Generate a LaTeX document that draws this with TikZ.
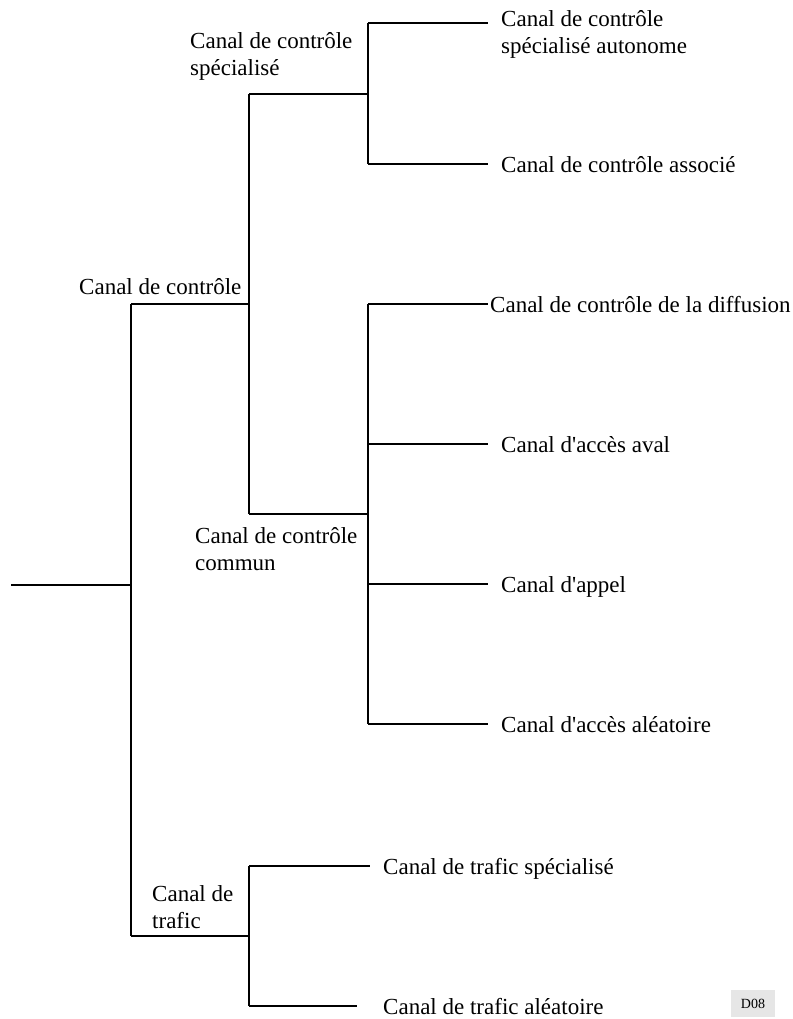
\documentclass[tikz,border=0pt]{standalone}
\usepackage{fontspec}
\setmainfont{Liberation Serif}
\newfontfamily\aposfont{Liberation Serif}
\definecolor{tagfill}{HTML}{E6E6E6}
\newcommand{\apos}{{\aposfont'}}
\newcommand{\twolines}[2]{\vtop{\hbox{#1}\hbox{#2}}}
\begin{document}
\begin{tikzpicture}[x=1pt,y=-1pt,
  wire/.style={line width=2.6pt,line cap=butt,line join=miter},
  lbl/.style={anchor=base west,inner sep=0pt,font=\fontsize{23}{27}\selectfont},
  tag/.style={fill=tagfill,inner sep=0pt,minimum width=44pt,minimum height=27pt,font=\fontsize{14}{16}\selectfont}]
\useasboundingbox (0,0) rectangle (792,1019);
% coordinates of the tree
\coordinate (root) at (11,585);
\coordinate (j1) at (131,585);
\coordinate (ccA) at (131,304);
\coordinate (ccB) at (249,304);
\coordinate (trA) at (131,936);
\coordinate (trB) at (249,936);
\coordinate (csA) at (249,94);
\coordinate (csB) at (368,94);
\coordinate (cmA) at (249,514);
\coordinate (cmB) at (368,514);
\coordinate (s1A) at (368,23);
\coordinate (s1B) at (488,23);
\coordinate (s2A) at (368,164);
\coordinate (s2B) at (488,164);
\coordinate (m1A) at (368,304);
\coordinate (m1B) at (488,304);
\coordinate (m2A) at (368,444);
\coordinate (m2B) at (488,444);
\coordinate (m3A) at (368,584);
\coordinate (m3B) at (488,584);
\coordinate (m4A) at (368,724);
\coordinate (m4B) at (488,724);
\coordinate (t1A) at (249,866);
\coordinate (t1B) at (370,866);
\coordinate (t2A) at (249,1006);
\coordinate (t2B) at (357,1006);
% labels
\node[lbl] (lcc) at (79,294) {Canal de contrôle};
\node[lbl] (lcs) at (190,49) {\twolines{Canal de contrôle}{spécialisé}};
\node[lbl] (lcm) at (195,543) {\twolines{Canal de contrôle}{commun}};
\node[lbl] (ltr) at (152,901) {\twolines{Canal de}{trafic}};
\node[lbl] (ls1) at (501,27) {\twolines{Canal de contrôle}{spécialisé autonome}};
\node[lbl] (ls2) at (501,172) {Canal de contrôle associé};
\node[lbl] (lm1) at (490,312) {Canal de contrôle de la diffusion};
\node[lbl] (lm2) at (501,452) {Canal d\apos accès aval};
\node[lbl] (lm3) at (501,592) {Canal d\apos appel};
\node[lbl] (lm4) at (501,732) {Canal d\apos accès aléatoire};
\node[lbl] (lt1) at (383,874) {Canal de trafic spécialisé};
\node[lbl] (lt2) at (383,1014) {Canal de trafic aléatoire};
\node[tag] (d08) at (753,1003.5) {D08};
% connectors
\draw[wire] (root) -- (j1);
\draw[wire] (ccA) -- (trA);
\draw[wire] (ccA) -- (ccB);
\draw[wire] (trA) -- (trB);
\draw[wire] (csA) -- (cmA);
\draw[wire] (csA) -- (csB);
\draw[wire] (cmA) -- (cmB);
\draw[wire] (s1A) -- (s2A);
\draw[wire] (s1A) -- (s1B);
\draw[wire] (s2A) -- (s2B);
\draw[wire] (m1A) -- (m4A);
\draw[wire] (m1A) -- (m1B);
\draw[wire] (m2A) -- (m2B);
\draw[wire] (m3A) -- (m3B);
\draw[wire] (m4A) -- (m4B);
\draw[wire] (t1A) -- (t2A);
\draw[wire] (t1A) -- (t1B);
\draw[wire] (t2A) -- (t2B);
\end{tikzpicture}
\end{document}
